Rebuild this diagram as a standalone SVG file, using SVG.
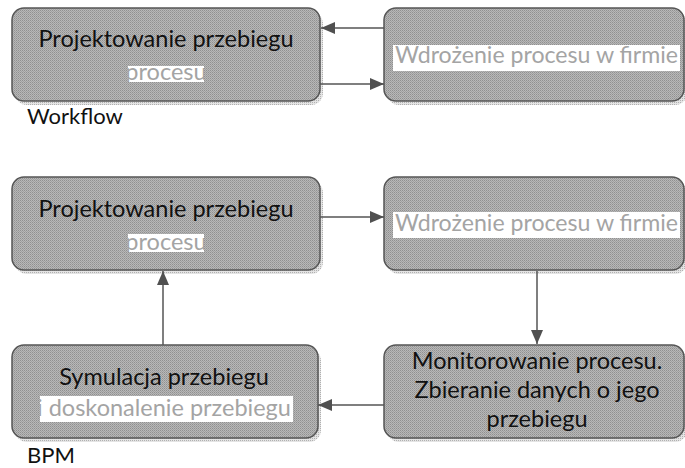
<svg xmlns="http://www.w3.org/2000/svg" width="685" height="468" viewBox="0 0 685 468">
<defs>
<pattern id="dots" width="2" height="2" patternUnits="userSpaceOnUse">
<rect width="2" height="2" fill="#b8b8b8"/>
<rect width="1" height="1" fill="#909090"/>
<rect x="1" y="1" width="1" height="1" fill="#a0a0a0"/>
</pattern>
<pattern id="sdots" width="2" height="2" patternUnits="userSpaceOnUse">
<rect width="2" height="2" fill="#e4e4e4"/>
<rect width="1" height="1" fill="#b0b0b0"/>
</pattern>
<marker id="ah" viewBox="0 0 14 12" refX="14" refY="6" markerWidth="14" markerHeight="12" markerUnits="userSpaceOnUse" orient="auto">
<path d="M0,0 L14,6 L0,12 Z" fill="#505050"/>
</marker>
<clipPath id="c1"><rect x="128" y="66" width="76" height="16"/></clipPath>
<clipPath id="c2"><rect x="128" y="234" width="76" height="18"/></clipPath>
<clipPath id="c3"><rect x="40" y="396" width="253" height="26"/></clipPath>
</defs>
<style>
.shadow{fill:url(#sdots)}
.box{fill:url(#dots);stroke:#555;stroke-width:1.5}
.t{font-family:Lato,"Open Sans","Liberation Sans",sans-serif;font-size:23.5px;fill:#111;text-anchor:middle}
.g{fill:#a4a4a4}
.hl{fill:#fff}
.lbl{font-family:Lato,"Open Sans","Liberation Sans",sans-serif;font-size:22px;fill:#111}
.c{stroke:#555;stroke-width:1.5;fill:none;marker-end:url(#ah)}
</style>
<rect width="685" height="468" fill="#fff"/>

<g id="wf-projekt">
<rect class="shadow" x="15" y="12" width="308" height="93" rx="12"/>
<rect class="box" x="12" y="8" width="308" height="93" rx="12"/>
<text class="t" x="166" y="47">Projektowanie przebiegu</text>
<rect class="hl" x="128" y="66" width="76" height="16"/>
<text class="t g" x="166" y="80" clip-path="url(#c1)">procesu</text>
</g>

<g id="wf-wdrozenie">
<rect class="shadow" x="387" y="12" width="300" height="93" rx="12"/>
<rect class="box" x="384" y="8" width="300" height="93" rx="12"/>
<rect class="hl" x="393" y="45" width="287" height="26"/>
<text class="t g" x="536.5" y="63" textLength="283" lengthAdjust="spacingAndGlyphs">Wdrożenie procesu w firmie</text>
</g>

<text id="wf-label" class="lbl" x="27" y="124">Workflow</text>

<g id="bpm-projekt">
<rect class="shadow" x="15" y="181" width="308" height="93" rx="12"/>
<rect class="box" x="12" y="177" width="308" height="93" rx="12"/>
<text class="t" x="166" y="217">Projektowanie przebiegu</text>
<rect class="hl" x="128" y="234" width="76" height="18"/>
<text class="t g" x="166" y="250" clip-path="url(#c2)">procesu</text>
</g>

<g id="bpm-wdrozenie">
<rect class="shadow" x="387" y="181" width="300" height="93" rx="12"/>
<rect class="box" x="384" y="177" width="300" height="93" rx="12"/>
<rect class="hl" x="393" y="212" width="287" height="26"/>
<text class="t g" x="536.5" y="231" textLength="283" lengthAdjust="spacingAndGlyphs">Wdrożenie procesu w firmie</text>
</g>

<g id="bpm-monitor">
<rect class="shadow" x="387" y="349" width="300" height="93" rx="12"/>
<rect class="box" x="384" y="345" width="300" height="93" rx="12"/>
<text class="t" x="537" y="369">Monitorowanie procesu.</text>
<text class="t" x="537" y="398">Zbieranie danych o jego</text>
<text class="t" x="537" y="427">przebiegu</text>
</g>

<g id="bpm-symulacja">
<rect class="shadow" x="15" y="349" width="306" height="93" rx="12"/>
<rect class="box" x="12" y="345" width="306" height="93" rx="12"/>
<text class="t" x="164" y="385">Symulacja przebiegu</text>
<rect class="hl" x="40" y="396" width="253" height="26"/>
<text class="t g" x="164" y="416" clip-path="url(#c3)">i doskonalenie przebiegu</text>
</g>

<text id="bpm-label" class="lbl" x="27" y="463">BPM</text>

<g id="connectors">
<line class="c" x1="384" y1="28" x2="321" y2="28"/>
<line class="c" x1="320" y1="84" x2="384" y2="84"/>
<line class="c" x1="320" y1="217" x2="384" y2="217"/>
<line class="c" x1="537" y1="271" x2="537" y2="344"/>
<line class="c" x1="384" y1="405" x2="318" y2="405"/>
<line class="c" x1="163" y1="345" x2="163" y2="271"/>
</g>
</svg>
